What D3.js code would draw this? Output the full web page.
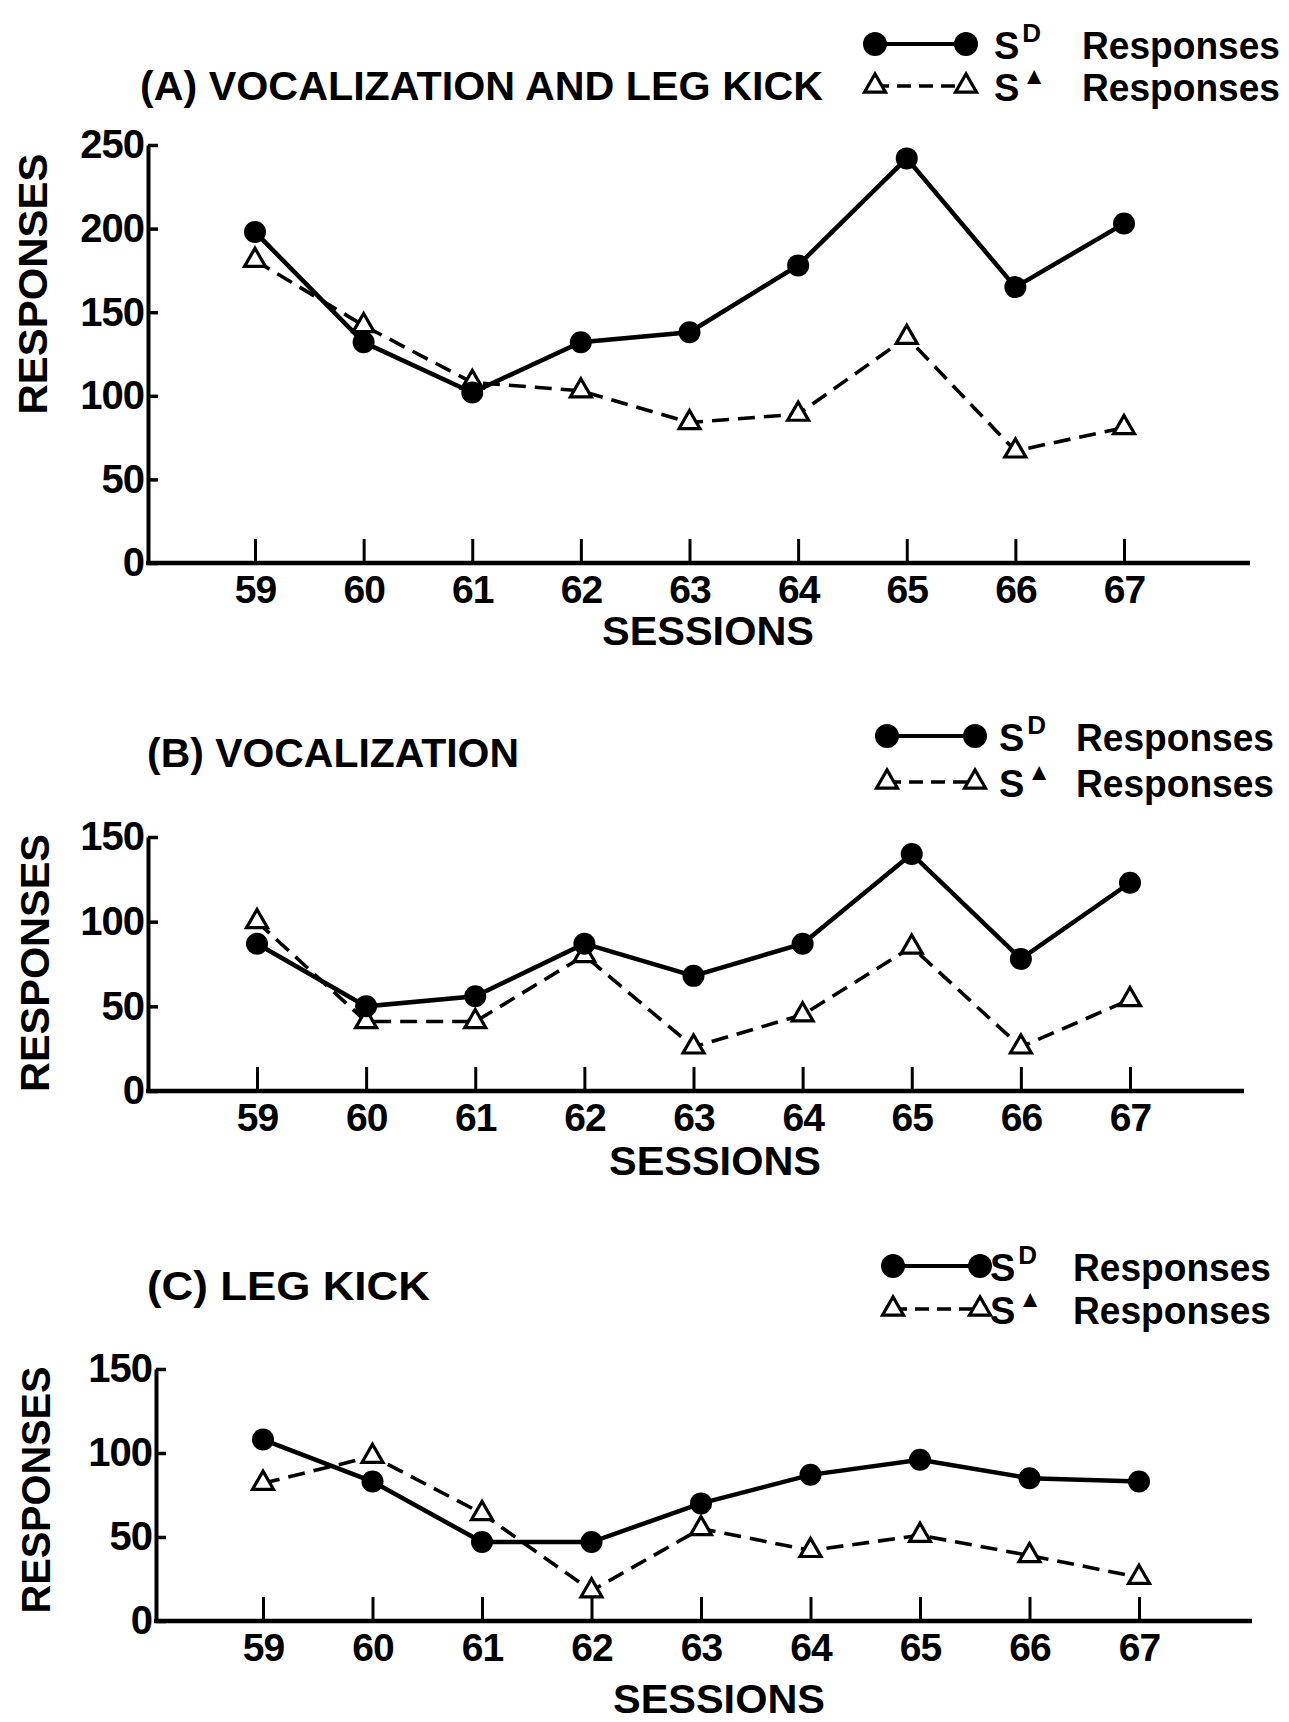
<!DOCTYPE html>
<html>
<head>
<meta charset="utf-8">
<script src="https://cdn.jsdelivr.net/npm/d3@7"></script>
<style>
  body { margin: 0; background: #fff; }
  svg text { font-family: "Liberation Sans", Arial, sans-serif; font-weight: bold; fill: #000; }
</style>
</head>
<body>
<div id="chart"></div>
<script>
const WIDTH = 1289, HEIGHT = 1722;

// data
const sessions = [59, 60, 61, 62, 63, 64, 65, 66, 67];
const sdA = [198, 132, 102, 132, 138, 178, 242, 165, 203];
const sdeltaA = [181, 142, 108, 103, 84, 89, 135, 67, 81];
const sdB = [87, 50, 56, 87, 68, 87, 140, 78, 123];
const sdeltaB = [100, 41, 41, 80, 26, 45, 85, 26, 54];
const sdC = [108, 83, 47, 47, 70, 87, 96, 85, 83];
const sdeltaC = [82, 98, 64, 18, 55, 42, 51, 39, 26];
const ticksA = [0, 50, 100, 150, 200, 250];
const ticksBC = [0, 50, 100, 150];
const titles = ["(A) VOCALIZATION AND LEG KICK", "(B) VOCALIZATION", "(C) LEG KICK"];

// layout of the three panels
const panels = [
    { title: titles[0], sd: sdA, sdelta: sdeltaA, ticks: ticksA,
      axisX: 148, yTop: 145, yBot: 563, x0: 255, x1: 1124, xEnd: 1250,
      titleX: 140, titleY: 100, titleLen: 683,
      ylabX: 33, ylabY: 284, ylabLen: 261, sessX: 708, sessY: 645,
      leg: { c1: 875, c2: 966, r1: 44, r2: 86, sx: 994, rx: 1082 } },
    { title: titles[1], sd: sdB, sdelta: sdeltaB, ticks: ticksBC,
      axisX: 148, yTop: 837, yBot: 1091, x0: 257, x1: 1130, xEnd: 1244,
      titleX: 147, titleY: 767, titleLen: 372,
      ylabX: 35, ylabY: 963, ylabLen: 258, sessX: 715, sessY: 1175,
      leg: { c1: 887, c2: 975, r1: 736, r2: 782, sx: 999, rx: 1076 } },
    { title: titles[2], sd: sdC, sdelta: sdeltaC, ticks: ticksBC,
      axisX: 156, yTop: 1369, yBot: 1621, x0: 263, x1: 1139, xEnd: 1252,
      titleX: 147, titleY: 1300, titleLen: 283,
      ylabX: 36, ylabY: 1490, ylabLen: 247, sessX: 719, sessY: 1713,
      leg: { c1: 893, c2: 980, r1: 1266, r2: 1309, sx: 990, rx: 1073 } }
];

const svg = d3.select("#chart")
    .append("svg")
    .attr("width", WIDTH)
    .attr("height", HEIGHT)

const tri = d3.symbol().type(d3.symbolTriangle).size(190);

function drawPanel(p) {
    const g = svg.append("g");
    const x = d3.scaleLinear().domain([59, 67]).range([p.x0, p.x1]);
    const y = d3.scaleLinear().domain([0, d3.max(p.ticks)]).range([p.yBot, p.yTop]);

    // y axis
    const yAxis = g.append("g")
        .attr("transform", `translate(${p.axisX},0)`)
        .call(d3.axisLeft(y).tickValues(p.ticks).tickSize(-10).tickSizeOuter(0).tickPadding(4));
    yAxis.select(".domain").attr("stroke-width", 4);
    yAxis.selectAll(".tick line").attr("stroke-width", 3.5);
    yAxis.selectAll(".tick text").style("font-size", "40px").attr("letter-spacing", -1);

    // x baseline + ticks
    g.append("line")
        .attr("x1", p.axisX - 2).attr("x2", p.xEnd)
        .attr("y1", p.yBot).attr("y2", p.yBot)
        .attr("stroke", "#000").attr("stroke-width", 4.5);
    const xAxis = g.append("g")
        .attr("transform", `translate(0,${p.yBot})`)
        .call(d3.axisBottom(x).tickValues(sessions).tickFormat(d3.format("d")).tickSize(-24).tickPadding(12));
    xAxis.select(".domain").remove();
    xAxis.selectAll(".tick line").attr("stroke-width", 3);
    xAxis.selectAll(".tick text").style("font-size", "39px").attr("letter-spacing", -1);

    g.append("text")
        .attr("x", p.sessX).attr("y", p.sessY)
        .attr("text-anchor", "middle")
        .style("font-size", "40px")
        .attr("textLength", 212).attr("lengthAdjust", "spacingAndGlyphs")
        .text("SESSIONS");

    g.append("text")
        .attr("transform", `translate(${p.ylabX},${p.ylabY}) rotate(-90)`)
        .attr("text-anchor", "middle")
        .attr("dominant-baseline", "central")
        .style("font-size", "40px")
        .attr("textLength", p.ylabLen).attr("lengthAdjust", "spacingAndGlyphs")
        .text("RESPONSES");

    g.append("text")
        .attr("x", p.titleX).attr("y", p.titleY)
        .style("font-size", "41px")
        .attr("textLength", p.titleLen).attr("lengthAdjust", "spacingAndGlyphs")
        .text(p.title);

    // series
    const line = d3.line().x((d, i) => x(sessions[i])).y(d => y(d));
    g.append("path").datum(p.sdelta)
        .attr("d", line).attr("fill", "none")
        .attr("stroke", "#000").attr("stroke-width", 3.6)
        .attr("stroke-dasharray", "17,9");
    g.append("path").datum(p.sd)
        .attr("d", line).attr("fill", "none")
        .attr("stroke", "#000").attr("stroke-width", 4.5);
    g.selectAll(".tri").data(p.sdelta).enter().append("path")
        .attr("transform", (d, i) => `translate(${x(sessions[i])},${y(d)})`)
        .attr("d", tri)
        .attr("fill", "#fff").attr("stroke", "#000").attr("stroke-width", 3.2);
    g.selectAll(".dot").data(p.sd).enter().append("circle")
        .attr("cx", (d, i) => x(sessions[i])).attr("cy", d => y(d))
        .attr("r", 11).attr("fill", "#000");

    // legend
    const L = p.leg;
    g.append("line").attr("x1", L.c1).attr("x2", L.c2).attr("y1", L.r1).attr("y2", L.r1)
        .attr("stroke", "#000").attr("stroke-width", 4);
    g.selectAll(".ldot").data([L.c1, L.c2]).enter().append("circle")
        .attr("cx", d => d).attr("cy", L.r1).attr("r", 12).attr("fill", "#000");
    g.append("line").attr("x1", L.c1).attr("x2", L.c2).attr("y1", L.r2).attr("y2", L.r2)
        .attr("stroke", "#000").attr("stroke-width", 3.6).attr("stroke-dasharray", "14,8");
    g.selectAll(".ltri").data([L.c1, L.c2]).enter().append("path")
        .attr("transform", d => `translate(${d},${L.r2})`)
        .attr("d", tri)
        .attr("fill", "#fff").attr("stroke", "#000").attr("stroke-width", 3.2);

    [[L.r1, "D"], [L.r2, "\u25B2"]].forEach(([ry, sup]) => {
        const t = g.append("text").attr("x", L.sx).attr("y", ry + 15).style("font-size", "38px");
        t.append("tspan").text("S");
        t.append("tspan").attr("dx", 3).attr("dy", -17).style("font-size", sup === "D" ? "26px" : "24px").text(sup);
        g.append("text").attr("x", L.rx).attr("y", ry + 15)
            .style("font-size", "38px")
            .attr("textLength", 198).attr("lengthAdjust", "spacingAndGlyphs")
            .text("Responses");
    });
}

panels.forEach(drawPanel);
</script>
</body>
</html>
